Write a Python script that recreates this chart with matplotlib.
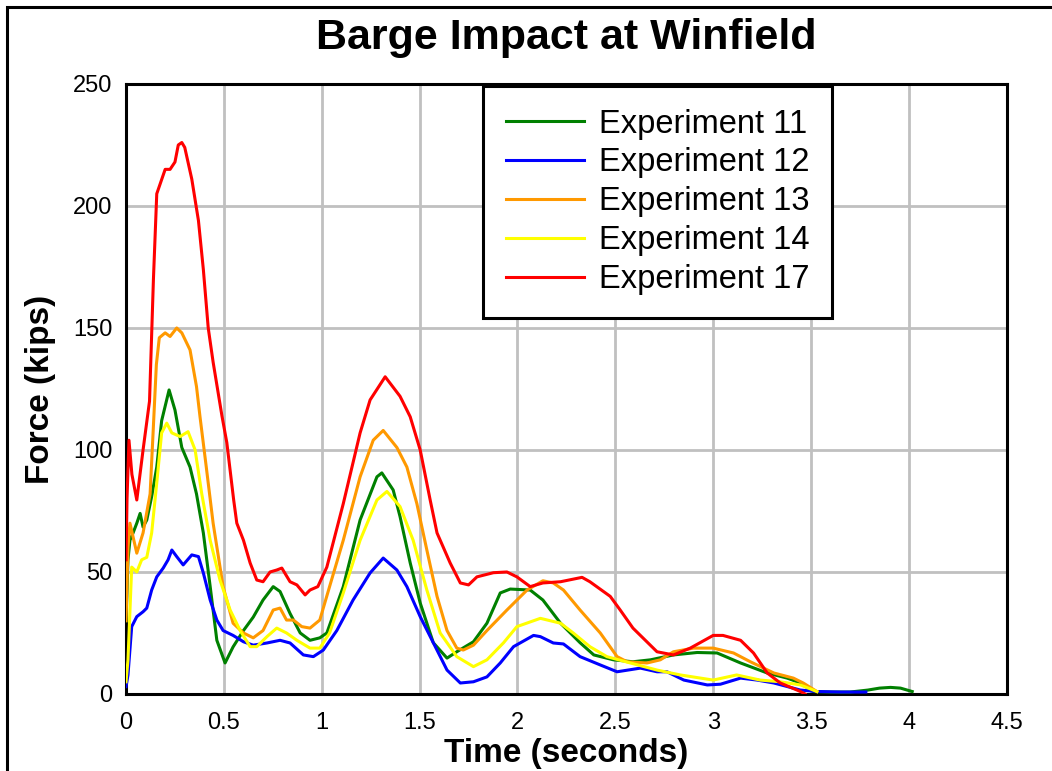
import matplotlib
matplotlib.use("Agg")
import matplotlib.pyplot as plt
from matplotlib.patches import Rectangle

plt.rcParams['font.family'] = ['Liberation Sans', 'DejaVu Sans']

# Exp 11
green_t = [0, 0.01, 0.02, 0.036, 0.055, 0.072, 0.087, 0.106, 0.131, 0.157, 0.182, 0.22, 0.25, 0.285,
           0.327, 0.36, 0.395, 0.43, 0.464, 0.506, 0.547, 0.6, 0.65, 0.70, 0.752, 0.787, 0.838, 0.89,
           0.94, 0.99, 1.026, 1.11, 1.196, 1.282, 1.307, 1.365, 1.40, 1.452, 1.503, 1.57, 1.64, 1.69,
           1.775, 1.844, 1.912, 1.963, 2.065, 2.13, 2.22, 2.32, 2.39, 2.49, 2.59, 2.68, 2.797, 2.918,
           3.02, 3.14, 3.276, 3.378, 3.446, 3.51, 3.6, 3.7, 3.79, 3.85, 3.906, 3.957, 4.017]
green_v = [30, 55, 63, 66, 70, 74, 68.4, 71.3, 80.9, 93, 112, 124.6, 116.4, 101,
           93, 82, 66, 44, 22, 12.7, 19.3, 26, 31.5, 38.5, 44, 42, 33, 25,
           22, 23, 25, 44, 71.3, 89, 90.6, 83.6, 72.7, 53.7, 37.3, 21, 14.7, 17.3,
           21.4, 29, 41.4, 43, 42.6, 38.5, 29, 21, 16, 14, 13.2, 14, 16, 17,
           16.8, 12.7, 8.6, 6.5, 4.5, 1, 0.8, 0.8, 1.6, 2.4, 2.7, 2.4, 1]

# Exp 12
blue_t = [0, 0.01, 0.029, 0.055, 0.087, 0.106, 0.131, 0.157, 0.19, 0.215, 0.234, 0.259, 0.292, 0.336,
          0.37, 0.395, 0.43, 0.464, 0.496, 0.547, 0.6, 0.65, 0.72, 0.787, 0.838, 0.906, 0.957, 1.008,
          1.077, 1.16, 1.247, 1.314, 1.384, 1.435, 1.503, 1.57, 1.64, 1.708, 1.775, 1.844, 1.912, 1.98,
          2.082, 2.117, 2.183, 2.235, 2.32, 2.423, 2.509, 2.628, 2.713, 2.764, 2.85, 2.97, 3.037, 3.14,
          3.224, 3.31, 3.446, 3.53, 3.65, 3.78]
blue_v = [3, 7.8, 27.6, 31.7, 33.7, 35.2, 42.6, 48, 51.6, 55, 59, 56.3, 52.9, 57,
          56.3, 49.6, 38.5, 30.3, 26, 24, 21.4, 20, 20.9, 22, 20.9, 16, 15.3, 18,
          26, 38.5, 49.6, 55.7, 50.8, 44, 31.7, 21, 9.8, 4.5, 5, 7, 12.7, 19.4,
          24, 23.5, 20.9, 20.5, 15.3, 11.9, 9.1, 10.6, 9.1, 9.1, 5.7, 3.7, 4, 6.5,
          5.7, 4.5, 1.6, 1, 0.8, 0.8]

# Exp 13
orange_t = [0, 0.01, 0.02, 0.055, 0.087, 0.123, 0.14, 0.155, 0.17, 0.2, 0.225, 0.259, 0.285, 0.327,
            0.36, 0.378, 0.41, 0.445, 0.496, 0.547, 0.6, 0.65, 0.70, 0.752, 0.787, 0.82, 0.855, 0.898,
            0.94, 0.99, 1.04, 1.11, 1.196, 1.263, 1.314, 1.384, 1.435, 1.486, 1.537, 1.589, 1.64, 1.69,
            1.723, 1.775, 1.844, 1.946, 2.049, 2.13, 2.183, 2.235, 2.32, 2.423, 2.509, 2.56, 2.662, 2.73,
            2.797, 2.9, 3.0, 3.104, 3.19, 3.31, 3.41, 3.46, 3.53]
orange_v = [30, 60, 70, 57.7, 66, 82, 110, 135, 146, 148, 146.5, 150, 148, 141,
            126, 113.6, 93, 70, 44, 29, 25, 23, 26, 34.4, 35.2, 30.3, 30.3, 27.6,
            27, 30.3, 44, 63, 89, 104, 108, 101, 93, 78, 59, 40, 26, 18.8,
            18, 20, 26, 34.4, 42.6, 46.4, 45.5, 42.6, 34.4, 25, 15.3, 13.2, 12.7, 14,
            17.3, 18.8, 18.8, 16.8, 13.2, 8.6, 6.5, 4.5, 1]

# Exp 14
yellow_t = [0, 0.01, 0.029, 0.055, 0.08, 0.106, 0.131, 0.157, 0.182, 0.208, 0.234, 0.276, 0.317, 0.353,
            0.387, 0.43, 0.48, 0.532, 0.583, 0.634, 0.668, 0.72, 0.77, 0.82, 0.873, 0.94, 0.99, 1.04,
            1.11, 1.196, 1.282, 1.333, 1.40, 1.467, 1.537, 1.605, 1.69, 1.775, 1.844, 1.929, 1.997, 2.117,
            2.22, 2.285, 2.37, 2.457, 2.577, 2.713, 2.832, 3.0, 3.12, 3.24, 3.343, 3.446, 3.53]
yellow_v = [5, 14, 52, 50, 55, 56, 66, 86.5, 107, 111, 107, 105.5, 107.5, 100,
            82, 63, 46.7, 34.4, 26, 19.4, 19.4, 23.5, 27, 25, 22, 18.8, 18.8, 25,
            41.4, 63, 79.5, 83, 76.8, 63, 42.6, 25, 15.3, 11.2, 14, 21, 27.6, 31,
            29, 25, 19.4, 15.3, 12.7, 9.8, 7.8, 5.7, 7.8, 5.7, 5, 3.7, 1]

# Exp 17
red_t = [0, 0.005, 0.015, 0.03, 0.055, 0.087, 0.12, 0.14, 0.157, 0.2, 0.225, 0.25, 0.267, 0.285,
         0.30, 0.336, 0.37, 0.395, 0.42, 0.445, 0.49, 0.515, 0.55, 0.566, 0.6, 0.634, 0.668, 0.70,
         0.736, 0.77, 0.796, 0.838, 0.873, 0.915, 0.94, 0.98, 1.026, 1.11, 1.196, 1.247, 1.324, 1.40,
         1.452, 1.503, 1.554, 1.589, 1.656, 1.708, 1.75, 1.793, 1.877, 1.946, 1.997, 2.065, 2.13, 2.22,
         2.33, 2.37, 2.474, 2.525, 2.59, 2.713, 2.797, 2.883, 3.0, 3.05, 3.14, 3.206, 3.276, 3.343,
         3.446, 3.47]
red_v = [55, 80, 104, 90, 79.5, 100, 120, 170, 205, 215, 215, 218, 225, 226,
         224, 211, 194, 174, 150, 136, 114, 103, 79.5, 70, 63, 53.7, 46.7, 46,
         50, 50.8, 51.6, 46, 44.7, 40.6, 42.6, 44, 52, 78, 107, 120.5, 130, 122,
         113.6, 100, 79.5, 66, 53.7, 45.5, 44.7, 48, 49.7, 50, 48, 44, 45.5, 46,
         47.8, 46, 40, 34.4, 27, 17.3, 16, 18.8, 24, 24, 22, 16.8, 8.6, 4.5,
         1, 0]

series = [
    ("Experiment 11", green_t, green_v, "#008000"),
    ("Experiment 12", blue_t, blue_v, "#0000FF"),
    ("Experiment 13", orange_t, orange_v, "#FF9900"),
    ("Experiment 14", yellow_t, yellow_v, "#FFFF00"),
    ("Experiment 17", red_t, red_v, "#FF0000"),
]

x_ticks = [0, 0.5, 1, 1.5, 2, 2.5, 3, 3.5, 4, 4.5]
x_labels = ["0", "0.5", "1", "1.5", "2", "2.5", "3", "3.5", "4", "4.5"]
y_ticks = [0, 50, 100, 150, 200, 250]

fig = plt.figure(figsize=(10.52, 7.71), dpi=100)
ax = fig.add_axes([0.1198, 0.0999, 0.8372, 0.7912])

for name, t, v, col in series:
    ax.plot(t, v, color=col, lw=2.2, label=name, zorder=3)

ax.set_xlim(0, 4.5)
ax.set_ylim(0, 250)
ax.set_xticks(x_ticks)
ax.set_xticklabels(x_labels)
ax.set_yticks(y_ticks)
ax.grid(True, color="#c0c0c0", lw=2.0, zorder=0)
ax.set_axisbelow(True)
ax.tick_params(length=0, labelsize=17)
ax.tick_params(axis='x', pad=13)
ax.tick_params(axis='y', pad=10)
for s in ax.spines.values():
    s.set_linewidth(2.2)
    s.set_color("black")

ax.set_xlabel("Time (seconds)", fontsize=24, fontweight="bold", labelpad=3)
ax.set_ylabel("Force (kips)", fontsize=24, fontweight="bold", labelpad=12)
ax.set_title("Barge Impact at Winfield", fontsize=31, fontweight="bold", pad=25)

leg = ax.legend(loc="upper left", bbox_to_anchor=(0.405, 0.997), fontsize=23.5,
                frameon=True, fancybox=False, framealpha=1, edgecolor="black",
                handlelength=2.4, handletextpad=0.45, labelspacing=0.24,
                borderpad=0.7, borderaxespad=0)
leg.get_frame().set_linewidth(2.2)

# outer frame of the figure (cut off at right and bottom)
fig.patches.append(Rectangle((0.0067, -0.05), 1.1, 0.991 + 0.05, transform=fig.transFigure,
                             fill=False, edgecolor="black", lw=2.2, clip_on=False))

fig.savefig("out.png", dpi=100)
